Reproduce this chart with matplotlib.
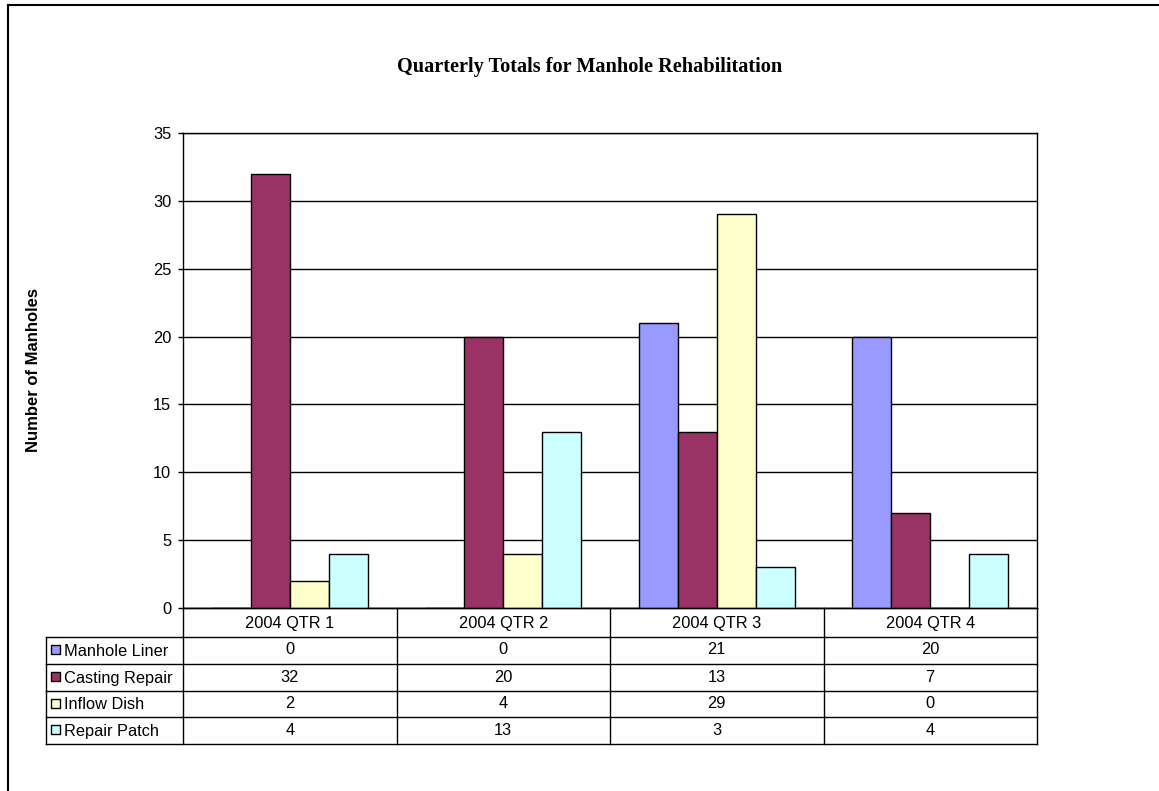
import matplotlib
matplotlib.use("Agg")
import matplotlib.pyplot as plt
import numpy as np
from matplotlib.patches import Rectangle

categories = ["2004 QTR 1", "2004 QTR 2", "2004 QTR 3", "2004 QTR 4"]
series_names = ["Manhole Liner", "Casting Repair", "Inflow Dish", "Repair Patch"]
manhole_liner = [0, 0, 21, 20]
casting_repair = [32, 20, 13, 7]
inflow_dish = [2, 4, 29, 0]
repair_patch = [4, 13, 3, 4]
series_values = [manhole_liner, casting_repair, inflow_dish, repair_patch]
colors = ["#9999FF", "#993366", "#FFFFCC", "#CCFFFF"]
yticks = [0, 5, 10, 15, 20, 25, 30, 35]

W, H = 1159, 791
fig = plt.figure(figsize=(W / 100, H / 100), dpi=100)
plt.rcParams['font.family'] = ['Liberation Sans', 'DejaVu Sans']
FS = 11.8

def fx(px):
    return px / W

def fy(py):
    return 1 - py / H

# outer border (left and top)
fig.add_artist(plt.Line2D([fx(8), fx(8)], [fy(5), 0], color='black', lw=1.5, transform=fig.transFigure))
fig.add_artist(plt.Line2D([fx(8), 1], [fy(5), fy(5)], color='black', lw=1.5, transform=fig.transFigure))

L, R, T, B = 183, 1037, 133, 608
ax = fig.add_axes([fx(L), fy(B), fx(R) - fx(L), fy(T) - fy(B)])
n = len(categories)
x = np.arange(n)
bw = 0.183
for i, (vals, c) in enumerate(zip(series_values, colors)):
    ax.bar(x + (i - 1.5) * bw, vals, width=bw, color=c, edgecolor='black', linewidth=1, zorder=3)
ax.set_xlim(-0.5, n - 0.5)
ax.set_ylim(0, 35)
ax.set_yticks(yticks)
ax.tick_params(axis='y', direction='out', length=3.5, pad=5, labelsize=FS, width=1)
ax.set_xticks([])
ax.yaxis.grid(True, color='black', lw=1, zorder=0)
for s in ax.spines.values():
    s.set_color('black')
    s.set_linewidth(1)

fig.text(fx(34), fy(370), "Number of Manholes", rotation=90, ha='center', va='center',
         fontsize=12, fontweight='bold')

fig.text(fx(590), fy(67), "Quarterly Totals for Manhole Rehabilitation", ha='center', va='center',
         fontsize=14.6, fontweight='bold', family=['Liberation Serif', 'DejaVu Serif'])

# data table
TL = 46
tb = fig.add_axes([0, 0, 1, 1], facecolor='none')
tb.set_xlim(0, W)
tb.set_ylim(H, 0)
tb.axis('off')
rows = [608, 636.5, 663.5, 690.5, 717, 743.5]
colx = [L + (R - L) * k / n for k in range(n + 1)]
lw = 1
tb.plot([L, R], [rows[0], rows[0]], color='black', lw=lw)
for k in range(n + 1):
    tb.plot([colx[k], colx[k]], [rows[0], rows[-1]], color='black', lw=lw)
for r in rows[1:]:
    tb.plot([TL, R], [r, r], color='black', lw=lw)
tb.plot([TL, TL], [rows[1], rows[-1]], color='black', lw=lw)
for k, cat in enumerate(categories):
    tb.text((colx[k] + colx[k + 1]) / 2, (rows[0] + rows[1]) / 2 + 1, cat, ha='center', va='center', fontsize=FS)
for j, (name, vals, c) in enumerate(zip(series_names, series_values, colors)):
    yc = (rows[j + 1] + rows[j + 2]) / 2
    tb.add_patch(Rectangle((TL + 5, yc - 5), 9, 9, facecolor=c, edgecolor='black', lw=1))
    tb.text(TL + 18, yc + 1, name, ha='left', va='center', fontsize=FS)
    for k, v in enumerate(vals):
        tb.text((colx[k] + colx[k + 1]) / 2, yc, str(v), ha='center', va='center', fontsize=FS)

fig.savefig("out.png", dpi=100)
